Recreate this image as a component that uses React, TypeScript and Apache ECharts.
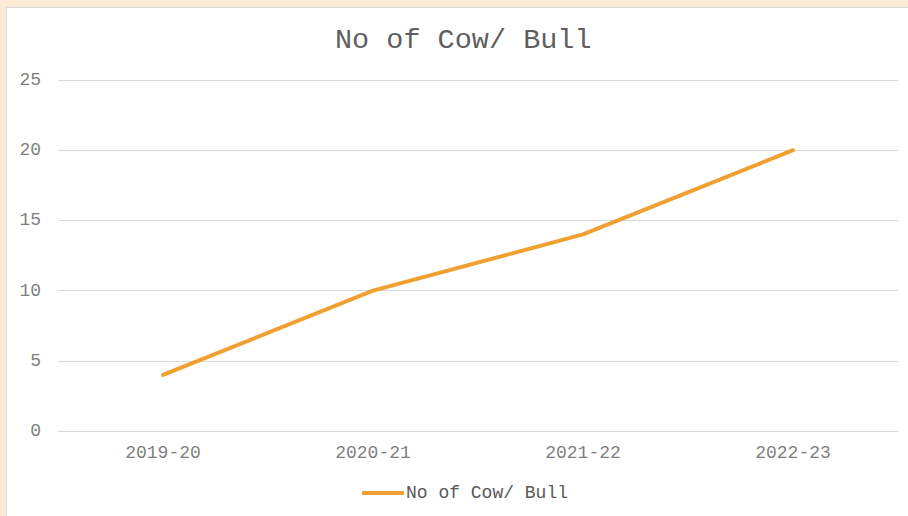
import React, { useEffect, useRef } from "react";
import * as echarts from "echarts";

const categories = ["2019-20", "2020-21", "2021-22", "2022-23"];
const seriesName = "No of Cow/ Bull";
const values = [4, 10, 14, 20];
const titleText = "No of Cow/ Bull";

const FONT = "'Liberation Mono', 'Courier New', monospace";

export default function App() {
  const ref = useRef<HTMLDivElement>(null);
  useEffect(() => {
    document.body.style.margin = "0";
    const chart = echarts.init(ref.current!, undefined, { renderer: "svg" });
    chart.setOption({
      animation: false,
      backgroundColor: "#ffffff",
      title: {
        text: titleText,
        left: 323,
        top: 13,
        textStyle: { fontFamily: FONT, fontSize: 28.5, fontWeight: "normal", color: "#5f5f5f" },
      },
      legend: {
        bottom: 9,
        left: 350,
        itemWidth: 42,
        itemHeight: 4,
        itemGap: 10,
        data: [{ name: seriesName, icon: "rect" }],
        textStyle: { fontFamily: FONT, fontSize: 18, color: "#595959", padding: [0, 0, 0, -3] },
      },
      grid: { left: 51, right: 10, top: 72, bottom: 85, containLabel: false },
      xAxis: {
        type: "category",
        data: categories,
        boundaryGap: true,
        axisLine: { show: true, lineStyle: { color: "#d9d9d9", width: 1 } },
        axisTick: { show: false },
        axisLabel: { fontFamily: FONT, fontSize: 18, color: "#7f7f7f", margin: 13 },
      },
      yAxis: {
        type: "value",
        min: 0,
        max: 25,
        interval: 5,
        axisLine: { show: false },
        axisTick: { show: false },
        splitLine: { lineStyle: { color: "#d9d9d9", width: 1 } },
        axisLabel: { fontFamily: FONT, fontSize: 18, color: "#7f7f7f", margin: 17 },
      },
      series: [
        {
          name: seriesName,
          type: "line",
          data: values,
          showSymbol: false,
          symbol: "none",
          lineStyle: { color: "#f0a030", width: 4, cap: "round" },
          itemStyle: { color: "#f0a030" },
        },
      ],
    });
    return () => chart.dispose();
  }, []);
  return (
    <div style={{ position: "fixed", left: 0, top: 0, width: 908, height: 516, background: "#fbead6" }}>
      <div
        style={{
          position: "absolute",
          left: 6,
          top: 7,
          width: 902,
          height: 509,
          borderLeft: "1px solid #dcdcdc",
          borderTop: "1px solid #dcdcdc",
          boxSizing: "border-box",
          background: "#fff",
        }}
      >
        <div ref={ref} style={{ width: 901, height: 508 }} />
      </div>
    </div>
  );
}
